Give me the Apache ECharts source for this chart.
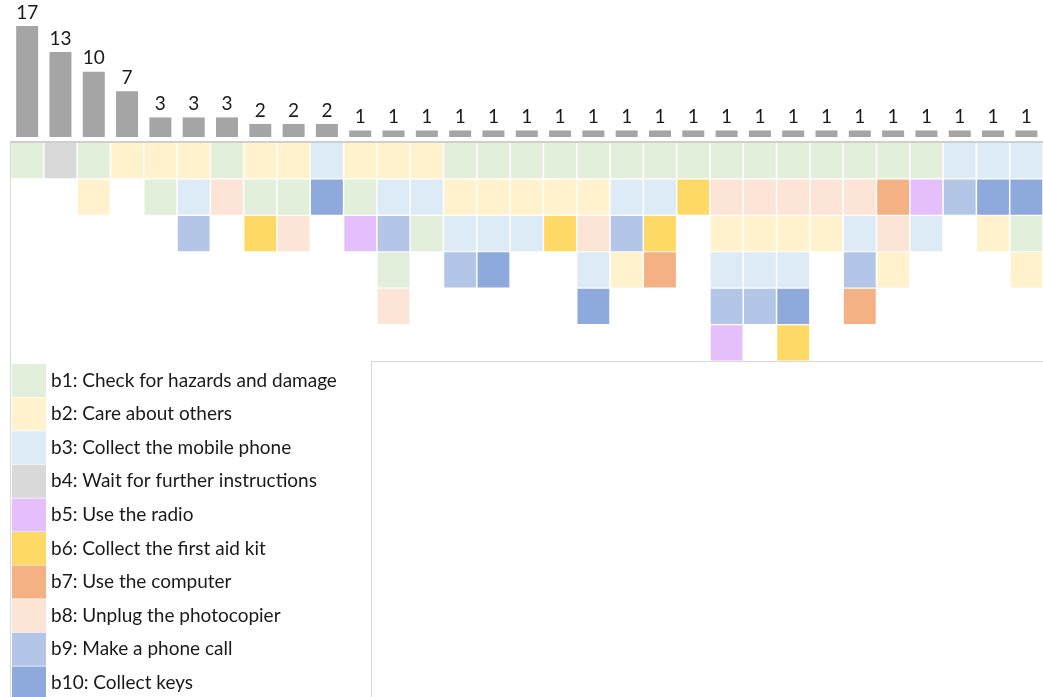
<!DOCTYPE html>
<html>
<head>
<meta charset="utf-8">
<script src="https://cdn.jsdelivr.net/npm/echarts@6/dist/echarts.min.js"></script>
<style>
  html, body { margin: 0; padding: 0; background: #fff; }
  #chart { width: 1043px; height: 697px; }
</style>
</head>
<body>
<div id="chart"></div>
<script>
// how often each behaviour sequence happened
const counts = [17, 13, 10, 7, 3, 3, 3, 2, 2, 2,
  1, 1, 1, 1, 1, 1, 1, 1, 1, 1, 1, 1, 1, 1, 1, 1, 1, 1, 1, 1, 1]

// the sequences, top to bottom (numbers are behaviour ids b1..b10)
const sequences = [
  [1], [4], [1, 2], [2], [2, 1], [2, 3, 9], [1, 8], [2, 1, 6], [2, 1, 8], [3, 10],
  [2, 1, 5], [2, 3, 9, 1, 8], [2, 3, 1], [1, 2, 3, 9], [1, 2, 3, 10], [1, 2, 3],
  [1, 2, 6], [1, 2, 8, 3, 10], [1, 3, 9, 2], [1, 3, 6, 7], [1, 6],
  [1, 8, 2, 3, 9, 5], [1, 8, 2, 3, 9], [1, 8, 2, 3, 10, 6], [1, 8, 2],
  [1, 8, 3, 9, 7], [1, 7, 8, 2], [1, 5, 3], [3, 9], [3, 10, 2], [3, 10, 1, 2]
]

const behaviours = [
  'b1: Check for hazards and damage',
  'b2: Care about others',
  'b3: Collect the mobile phone',
  'b4: Wait for further instructions',
  'b5: Use the radio',
  'b6: Collect the first aid kit',
  'b7: Use the computer',
  'b8: Unplug the photocopier',
  'b9: Make a phone call',
  'b10: Collect keys'
]

const colors = ['#E2EFDA', '#FFF2CC', '#DDEBF7', '#D9D9D9', '#E4BFFC',
  '#FFD966', '#F4B183', '#FCE4D6', '#B4C6E7', '#8EA9DB']

const steps = ['1', '2', '3', '4', '5', '6']
const columns = counts.map((c, i) => 'S' + (i + 1))

const FONT = 'Lato, "Liberation Sans", sans-serif'

const chart = echarts.init(document.getElementById('chart'), null, { renderer: 'canvas' })

// 一个行为一个系列, 这样图例颜色直接对上
function cellSeries (b) {
  const data = []
  sequences.forEach((seq, col) => {
    seq.forEach((id, row) => {
      if (id === b + 1) data.push([col, row])
    })
  })
  return {
    name: behaviours[b],
    type: 'custom',
    xAxisIndex: 1,
    yAxisIndex: 1,
    itemStyle: { color: colors[b] },
    renderItem: (params, api) => {
      const p = api.coord([api.value(0), api.value(1)])
      const s = api.size([1, 1])
      return {
        type: 'rect',
        shape: { x: p[0] - s[0] / 2 + 0.75, y: p[1] - s[1] / 2 + 0.6, width: s[0] - 1.5, height: s[1] - 1.2 },
        style: { fill: api.visual('color') }
      }
    },
    data: data
  }
}

const option = {
  animation: false,
  backgroundColor: '#fff',
  grid: [
    { left: 10.5, width: 1038.5, top: 26, height: 111 },
    { left: 10.5, width: 1038.5, top: 142.5, height: 218.5 }
  ],
  xAxis: [
    {
      type: 'category', gridIndex: 0, data: columns,
      axisLine: { show: false }, axisTick: { show: false }, axisLabel: { show: false }
    },
    {
      type: 'category', gridIndex: 1, data: columns,
      axisLine: { show: false }, axisTick: { show: false }, axisLabel: { show: false }
    }
  ],
  yAxis: [
    {
      type: 'value', gridIndex: 0, min: 0, max: 17,
      axisLine: { show: false }, axisTick: { show: false }, axisLabel: { show: false }, splitLine: { show: false }
    },
    {
      type: 'category', gridIndex: 1, data: steps, inverse: true,
      axisLine: { show: false }, axisTick: { show: false }, axisLabel: { show: false }
    }
  ],
  legend: {
    orient: 'vertical',
    left: 12,
    top: 364,
    height: 400,
    padding: 0,
    icon: 'rect',
    itemWidth: 34,
    itemHeight: 33,
    itemGap: 0.6,
    selectedMode: false,
    data: behaviours,
    textStyle: { fontFamily: FONT, fontSize: 19, color: '#1a1a1a' }
  },
  graphic: [
    { type: 'line', shape: { x1: 10, y1: 142, x2: 1043, y2: 142 }, style: { stroke: '#BFBFBF', lineWidth: 1.5 } },
    { type: 'line', shape: { x1: 10.5, y1: 142, x2: 10.5, y2: 697 }, style: { stroke: '#D9D9D9', lineWidth: 1 } },
    { type: 'line', shape: { x1: 372, y1: 361.5, x2: 1043, y2: 361.5 }, style: { stroke: '#D9D9D9', lineWidth: 1 } },
    { type: 'line', shape: { x1: 371.5, y1: 361.5, x2: 371.5, y2: 697 }, style: { stroke: '#D9D9D9', lineWidth: 1 } }
  ],
  series: [
    {
      type: 'bar',
      xAxisIndex: 0,
      yAxisIndex: 0,
      barWidth: 22,
      itemStyle: { color: '#A5A5A5' },
      label: {
        show: true,
        position: 'top',
        distance: 4,
        fontFamily: FONT,
        fontSize: 19,
        color: '#1a1a1a'
      },
      data: counts
    }
  ].concat(behaviours.map((n, b) => cellSeries(b)))
}

chart.setOption(option)
</script>
</body>
</html>
